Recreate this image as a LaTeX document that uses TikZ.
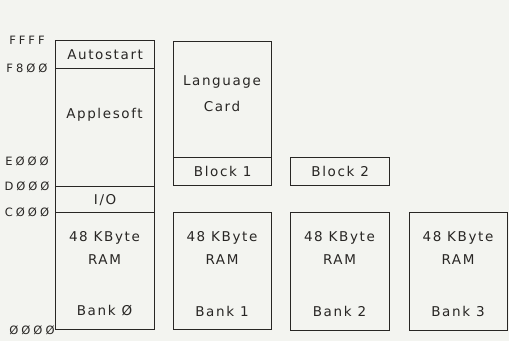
\documentclass[tikz,border=0pt]{standalone}
\usepackage{fontspec}
\setmainfont{DejaVu Sans}[LetterSpace=12]
\newfontfamily\addrfont{DejaVu Sans}[LetterSpace=26]
\definecolor{bg}{RGB}{243,244,240}
\definecolor{ink}{RGB}{40,38,36}
\begin{document}
\begin{tikzpicture}[x=1pt,y=-1pt,
  box/.style={draw=ink,line width=1.3pt,inner sep=0pt,anchor=north west},
  lbl/.style={text=ink,font=\fontsize{13.5}{15}\selectfont,inner sep=0pt},
  addr/.style={text=ink,font=\addrfont\fontsize{11.5}{13}\selectfont,inner sep=0pt}]
\fill[bg] (0,0) rectangle (509,341);
\useasboundingbox (0,0) rectangle (509,341);
% column 0
\node[box,minimum width=99pt,minimum height=28pt] (auto) at (55,40) {};
\node[box,minimum width=99pt,minimum height=118pt] (apple) at (55,68) {};
\node[box,minimum width=99pt,minimum height=26pt] (io) at (55,186) {};
\node[box,minimum width=99pt,minimum height=117pt] (bank0) at (55,212) {};
% column 1
\node[box,minimum width=98pt,minimum height=116pt] (lang) at (173,41) {};
\node[box,minimum width=98pt,minimum height=28pt] (blk1) at (173,157) {};
\node[box,minimum width=98pt,minimum height=117pt] (bank1) at (173,212) {};
% column 2
\node[box,minimum width=99pt,minimum height=28pt] (blk2) at (290,157) {};
\node[box,minimum width=99pt,minimum height=118pt] (bank2) at (290,212) {};
% column 3
\node[box,minimum width=98pt,minimum height=118pt] (bank3) at (409,212) {};
% texts
\node[lbl] (tauto) at (auto.center) {Autostart};
\node[lbl] (tapple) at (104.5,115) {Applesoft};
\node[lbl] (tio) at (io.center) {I/O};
\node[lbl] (tlang) at (222,82) {Language};
\node[lbl] (tcard) at (222,106) {Card};
\node[lbl] (tblk1) at (blk1.center) {Block 1};
\node[lbl] (tblk2) at (blk2.center) {Block 2};
\foreach \c/\x/\b in {0/104.5/Ø,1/222/1,2/339.5/2,3/458/3}{
  \node[lbl] (kb\c) at (\x,238) {48 KByte};
  \node[lbl] (ram\c) at (\x,260) {RAM};
  \node[lbl] (bk\c) at (\x,311) {Bank \b};
}
% addresses
\node[addr] (aFFFF) at (27,40) {FFFF};
\node[addr] (aF800) at (27,68) {F8ØØ};
\node[addr] (aE000) at (27,161) {EØØØ};
\node[addr] (aD000) at (27,186) {DØØØ};
\node[addr] (aC000) at (27,212) {CØØØ};
\node[addr] (a0000) at (32,330) {ØØØØ};
\end{tikzpicture}
\end{document}
